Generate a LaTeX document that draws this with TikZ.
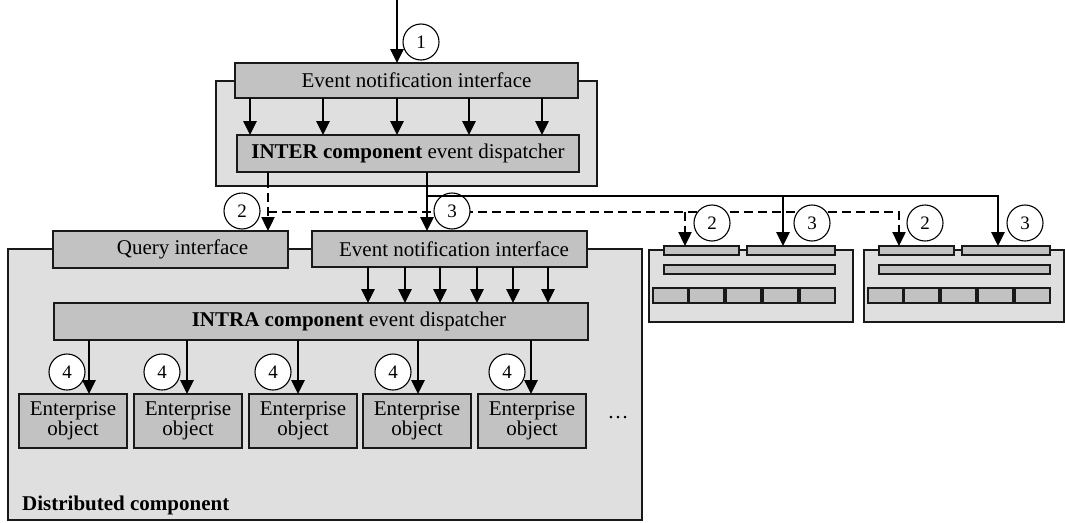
\documentclass[tikz,border=0pt]{standalone}
\usepackage{fontspec}
\setmainfont{Liberation Serif}
\usetikzlibrary{arrows.meta}

\definecolor{panelgray}{HTML}{DFDFDF}
\definecolor{blockgray}{HTML}{C2C2C2}

\begin{document}
\begin{tikzpicture}[x=1pt,y=-1pt,
  panel/.style={draw=black!90,line width=1.2pt,fill=panelgray,inner sep=0pt,outer sep=0pt,anchor=north west},
  block/.style={draw=black!90,line width=1.2pt,fill=blockgray,inner sep=0pt,outer sep=0pt,anchor=north west,
    align=center,font=\fontsize{21}{19.5}\selectfont},
  sz/.style 2 args={minimum width=#1,minimum height=#2},
  tip/.style={-{Triangle[length=14pt,width=13pt]}},
  arr/.style={line width=2.7pt,tip},
  dsh/.style={line width=2.4pt,dash pattern=on 9pt off 5pt},
  num/.style={circle,draw,line width=1.1pt,fill=white,minimum size=36pt,
    inner sep=0pt,font=\fontsize{19}{19}\selectfont},
]
\useasboundingbox (0,0) rectangle (1065,522);

% containers
\node[panel,sz={381}{105}] (interpanel) at (216,81) {};
\node[panel,sz={634}{271}] (distpanel) at (8,249) {};
\node[panel,sz={204}{72}] (remoteA) at (649,250) {};
\node[panel,sz={200}{72}] (remoteB) at (864,250) {};

% inter-component part
\node[block,sz={343}{35}] (topeni) at (235,63) {\hspace*{20pt}Event notification interface};
\node[block,sz={342}{37}] (interdisp) at (237,135) {\textbf{INTER component} event dispatcher};

% distributed component
\node[block,sz={235}{37}] (query) at (53,231) {\hspace*{24pt}Query interface};
\node[block,sz={275}{36}] (loweni) at (312,231) {\hspace*{9pt}Event notification interface};
\node[block,sz={534}{37}] (intradisp) at (54,303) {\hspace*{56pt}\textbf{INTRA component} event dispatcher};
\foreach \x [count=\i] in {19,134,249,363,478}
  \node[block,sz={108}{54}] (eo\i) at (\x,394) {Enterprise\\object};
\node[anchor=base,inner sep=0pt,font=\fontsize{21}{21}\selectfont] (more) at (618,418) {…};
\node[anchor=base west,inner sep=0pt,font=\fontsize{21}{21}\selectfont\bfseries] (distlabel) at (22,510) {Distributed component};

% remote components (miniatures)
\foreach \dx/\c in {0/A,215/B} {
  \node[block,sz={75}{9}] (rq\c) at (664+\dx,246) {};
  \node[block,sz={88}{9}] (re\c) at (747+\dx,246) {};
  \node[block,sz={171}{9}] (rd\c) at (664+\dx,265) {};
  \foreach \x [count=\j] in {653,689,726,763,800}
    \node[block,sz={35}{15}] (ro\c\j) at (\x+\dx,288) {};
}

% incoming event
\coordinate (src) at (397,0);
\draw[arr] (src) -- (src |- topeni.north);

% notification interface to inter dispatcher
\foreach \x [count=\i] in {250,323,397,469,542} {
  \coordinate (fa\i) at (\x,0);
  \draw[arr] (topeni.south -| fa\i) -- (interdisp.north -| fa\i);
}

% query routes (dashed; solid while still inside the inter panel)
\coordinate (qx) at (268,212);
\coordinate (qa) at (685,212);
\coordinate (qb) at (899,212);
\draw[line width=2.4pt,dash pattern=on 16pt off 5pt on 9pt off 5pt on 9pt off 5pt on 40pt,tip]
  (interdisp.south -| qx) -- (query.north -| qx);
\draw[dsh,tip] (qx) -- (qb) -- (rqB.north -| qb);
\draw[dsh,tip] (qa) -- (rqA.north -| qa);

% step numbers
\node[num] (n1) at (421,42) {1};
\node[num] (n2) at (242,211) {2};
\node[num] (n3) at (452,211) {3};
\node[num] (n2a) at (712,223) {2};
\node[num] (n3a) at (812,223) {3};
\node[num] (n2b) at (925,223) {2};
\node[num] (n3b) at (1025,223) {3};
\foreach \x [count=\i] in {67,162,273,393,507}
  \node[num] (n4\i) at (\x,372) {4};

% event routes (solid)
\coordinate (ex) at (427,196);
\coordinate (ea) at (783,196);
\coordinate (eb) at (998,196);
\draw[arr] (interdisp.south -| ex) -- (loweni.north -| ex);
\draw[arr] (ex) -- (eb) -- (reB.north -| eb);
\draw[arr] (ea) -- (reA.north -| ea);

% notification interface to intra dispatcher
\foreach \x [count=\i] in {368,405,440,477,513,548} {
  \coordinate (fb\i) at (\x,0);
  \draw[arr] (loweni.south -| fb\i) -- (intradisp.north -| fb\i);
}

% intra dispatcher to enterprise objects
\foreach \x [count=\i] in {89,187,298,418,531} {
  \coordinate (fc\i) at (\x,0);
  \draw[arr] (intradisp.south -| fc\i) -- (eo\i.north -| fc\i);
}
\end{tikzpicture}
\end{document}
